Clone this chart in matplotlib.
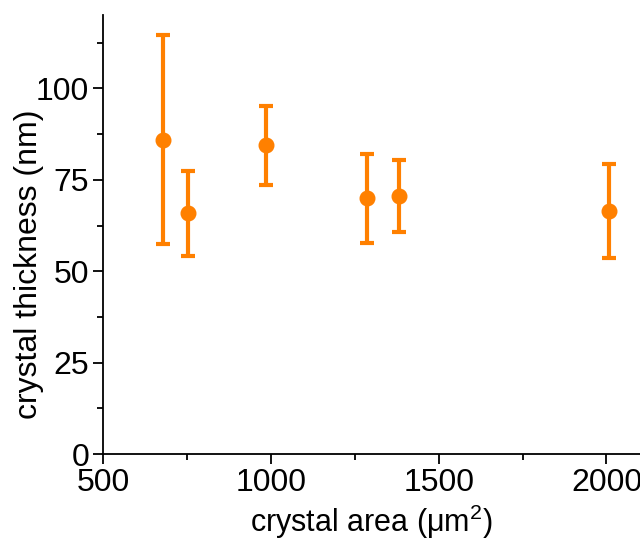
import matplotlib
matplotlib.use('Agg')
import matplotlib.pyplot as plt
from matplotlib.ticker import MultipleLocator

plt.rcParams['font.family'] = ['Liberation Sans', 'DejaVu Sans']
plt.rcParams['mathtext.fontset'] = 'custom'
plt.rcParams['mathtext.rm'] = 'Liberation Sans'
plt.rcParams['mathtext.it'] = 'Liberation Sans:italic'

area = [679, 752, 987, 1288, 1381, 2009]
thickness = [85.8, 65.9, 84.4, 70.0, 70.7, 66.6]
err_low = [28.3, 11.6, 10.7, 12.2, 10.0, 13.1]
err_high = [28.7, 11.5, 10.8, 12.0, 9.8, 12.7]

fig = plt.figure(figsize=(6.4, 5.42), dpi=100)
ax = fig.add_axes([0.161, 0.162, 0.839, 0.81])

ax.errorbar(area, thickness, yerr=[err_low, err_high], fmt='o', color='#FF8000',
            ms=10.5, elinewidth=3, capsize=5, capthick=3, clip_on=False)

ax.set_xlim(500, 2100)
ax.set_ylim(0, 120)
ax.xaxis.set_major_locator(MultipleLocator(500))
ax.xaxis.set_minor_locator(MultipleLocator(250))
ax.yaxis.set_major_locator(MultipleLocator(25))
ax.yaxis.set_minor_locator(MultipleLocator(12.5))
ax.spines['top'].set_visible(False)
ax.spines['right'].set_visible(False)
ax.spines['left'].set_linewidth(1.3)
ax.spines['bottom'].set_linewidth(1.3)
ax.tick_params(which='major', length=7, width=1.3, labelsize=23, direction='out', pad=3)
ax.tick_params(which='minor', length=4, width=1.3, direction='out')

ax.set_xlabel('crystal area (μm$^2$)', fontsize=22, labelpad=3)
ax.set_ylabel('crystal thickness (nm)', fontsize=23)
ax.yaxis.set_label_coords(-0.11, 0.433)

fig.savefig('out.png', dpi=100)
